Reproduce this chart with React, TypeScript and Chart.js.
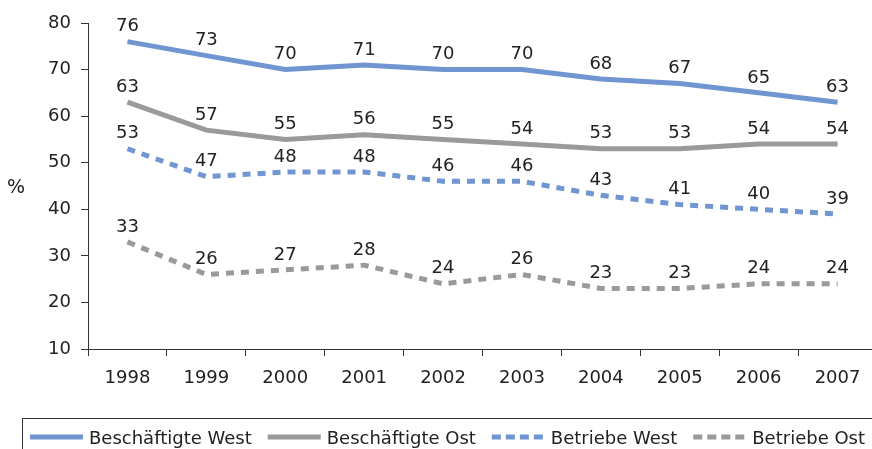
import React, { useEffect, useRef } from "react";
import { Chart, registerables } from "chart.js";

Chart.register(...registerables);

const years = ["1998", "1999", "2000", "2001", "2002", "2003", "2004", "2005", "2006", "2007"];
const beschWest = [76, 73, 70, 71, 70, 70, 68, 67, 65, 63];
const beschOst = [63, 57, 55, 56, 55, 54, 53, 53, 54, 54];
const betrWest = [53, 47, 48, 48, 46, 46, 43, 41, 40, 39];
const betrOst = [33, 26, 27, 28, 24, 26, 23, 23, 24, 24];
const yTicks = [10, 20, 30, 40, 50, 60, 70, 80];

const BLUE = "#7095d0";
const GRAY = "#9a9a9b";
const TEXT = "#222222";
const FONT = "'DejaVu Sans', sans-serif";

const labelsPlugin = {
  id: "valueLabels",
  afterDatasetsDraw(chart: any) {
    const ctx = chart.ctx;
    ctx.save();
    ctx.font = `18px ${FONT}`;
    ctx.fillStyle = TEXT;
    ctx.textAlign = "center";
    ctx.textBaseline = "middle";
    chart.data.datasets.forEach((ds: any, i: number) => {
      const meta = chart.getDatasetMeta(i);
      meta.data.forEach((pt: any, j: number) => {
        ctx.fillText(String(ds.data[j]), pt.x, pt.y - 15);
      });
    });
    ctx.restore();
  },
};

const legendPlugin = {
  id: "boxLegend",
  afterDraw(chart: any) {
    const ctx = chart.ctx;
    const W = chart.width;
    ctx.save();
    ctx.strokeStyle = "#333";
    ctx.lineWidth = 1;
    ctx.strokeRect(22.5, 418.5, W + 20, 60);
    ctx.font = `18px ${FONT}`;
    ctx.textBaseline = "middle";
    ctx.textAlign = "left";
    let x = 30;
    const y = 437;
    chart.data.datasets.forEach((ds: any) => {
      ctx.beginPath();
      ctx.strokeStyle = ds.borderColor;
      ctx.lineWidth = 5;
      ctx.setLineDash(ds.borderDash && ds.borderDash.length ? [9, 5] : []);
      ctx.moveTo(x, y);
      ctx.lineTo(x + 53, y);
      ctx.stroke();
      ctx.setLineDash([]);
      ctx.fillStyle = TEXT;
      ctx.fillText(ds.label, x + 59, y + 2);
      x += 59 + ctx.measureText(ds.label).width + 16;
    });
    // y-axis unit
    ctx.font = `19px ${FONT}`;
    ctx.textAlign = "center";
    ctx.fillText("%", 16, 188);
    ctx.restore();
  },
};

export default function App() {
  const ref = useRef<HTMLCanvasElement | null>(null);
  useEffect(() => {
    if (!ref.current) return;
    const mk = (label: string, data: number[], color: string, dash: number[]) => ({
      label,
      data,
      borderColor: color,
      backgroundColor: color,
      borderWidth: 5,
      borderDash: dash,
      borderCapStyle: "butt" as const,
      pointRadius: 0,
      tension: 0,
      fill: false,
    });
    const chart = new Chart(ref.current, {
      type: "line",
      data: {
        labels: years,
        datasets: [
          mk("Beschäftigte West", beschWest, BLUE, []),
          mk("Beschäftigte Ost", beschOst, GRAY, []),
          mk("Betriebe West", betrWest, BLUE, [8, 7]),
          mk("Betriebe Ost", betrOst, GRAY, [8, 7]),
        ],
      },
      options: {
        animation: false,
        responsive: false,
        maintainAspectRatio: false,
        layout: { padding: { top: 23, left: 0, right: 0, bottom: 0 } },
        plugins: { legend: { display: false }, tooltip: { enabled: false } },
        scales: {
          x: {
            offset: true,
            grid: {
              drawOnChartArea: false,
              drawTicks: true,
              tickLength: 7,
              color: "#333",
              offset: true,
            },
            border: { display: true, color: "#333", width: 1 },
            ticks: {
              color: TEXT,
              font: { family: FONT, size: 18 },
              padding: 12,
              maxRotation: 0,
              autoSkip: false,
            },
            afterFit: (s: any) => {
              s.height = 100;
            },
          },
          y: {
            min: 10,
            max: 80,
            afterBuildTicks: (s: any) => {
              s.ticks = yTicks.map((v) => ({ value: v }));
            },
            grid: {
              drawOnChartArea: false,
              drawTicks: true,
              tickLength: 7,
              color: "#333",
            },
            border: { display: true, color: "#333", width: 1 },
            ticks: {
              color: TEXT,
              font: { family: FONT, size: 18 },
              padding: 10,
            },
            afterFit: (s: any) => {
              s.width = 88;
            },
          },
        },
      },
      plugins: [labelsPlugin, legendPlugin],
    });
    return () => chart.destroy();
  }, []);
  return (
    <div style={{ position: "fixed", left: 0, top: 0, width: 872, height: 449, overflow: "hidden" }}>
      <canvas ref={ref} width={877} height={449} style={{ display: "block" }} />
    </div>
  );
}
